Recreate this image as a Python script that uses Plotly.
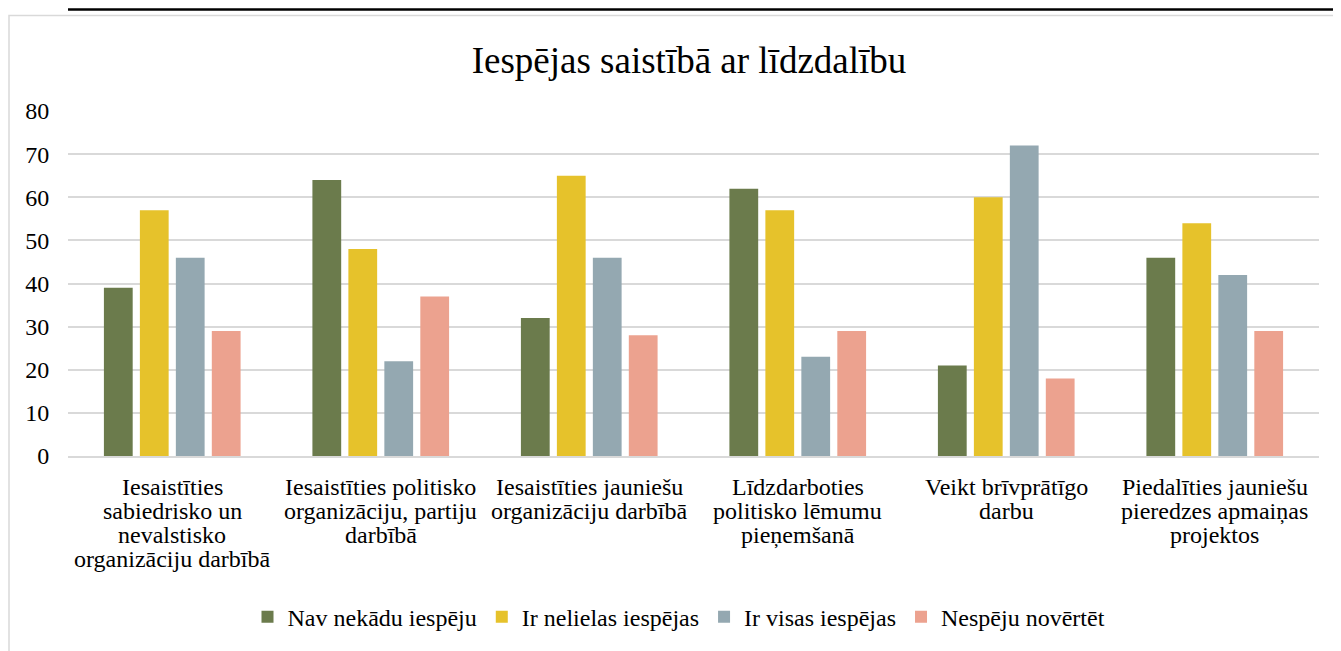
import plotly.graph_objects as go

categories = [
    "Iesaistīties<br>sabiedrisko un<br>nevalstisko<br>organizāciju darbībā",
    "Iesaistīties politisko<br>organizāciju, partiju<br>darbībā",
    "Iesaistīties jauniešu<br>organizāciju darbībā",
    "Līdzdarboties<br>politisko lēmumu<br>pieņemšanā",
    "Veikt brīvprātīgo<br>darbu",
    "Piedalīties jauniešu<br>pieredzes apmaiņas<br>projektos",
]
series_names = ["Nav nekādu iespēju", "Ir nelielas iespējas", "Ir visas iespējas", "Nespēju novērtēt"]
nav = [39, 64, 32, 62, 21, 46]
nelielas = [57, 48, 65, 57, 60, 54]
visas = [46, 22, 46, 23, 72, 42]
nespeju = [29, 37, 28, 29, 18, 29]
colors = ["#6b7b4c", "#e6c22b", "#94a8b1", "#eca28f"]

FONT = "'Liberation Serif', 'Times New Roman', Tinos, 'DejaVu Serif', serif"

fig = go.Figure()
for name, vals, c in zip(series_names, [nav, nelielas, visas, nespeju], colors):
    fig.add_trace(go.Bar(name=name, x=categories, y=vals, marker_color=c, marker_line_width=0))

# page body has an 8px margin, so figure is offset by (8, 8)
OFF = 8
W, H = 1341 - OFF, 651 - OFF
L, T = 68 - OFF, 111 - OFF
R = W - (1319 - OFF)
B = H - (458 - OFF)
pw, ph = W - L - R, H - T - B

def px(x):
    return (x - OFF - L) / pw

def py(y):
    return (H - B - (y - OFF)) / ph

# category labels drawn line by line (tight line spacing like the original)
annotations = []
for cat in categories:
    for i, line in enumerate(cat.split("<br>")):
        annotations.append(dict(
            x=cat, y=0, xref="x", yref="y", text=line, showarrow=False,
            xanchor="center", yanchor="middle", yshift=-(31 + 24 * i),
            font=dict(family=FONT, size=24, color="#000000"),
        ))

fig.update_layout(
    width=W, height=H,
    margin=dict(l=L, r=R, t=T, b=B),
    paper_bgcolor="white", plot_bgcolor="white",
    font=dict(family=FONT, color="#000000", size=24),
    title=dict(text="Iespējas saistībā ar līdzdalību", x=(689 - OFF) / W, xanchor="center",
               y=1 - (60 - OFF) / H, yanchor="middle",
               font=dict(family=FONT, size=37, color="#000000")),
    barmode="group", bargap=0.31, bargroupgap=0.2,
    legend=dict(orientation="h", x=px(679), xanchor="center", y=py(620), yanchor="middle",
                font=dict(family=FONT, size=24, color="#000000"), traceorder="normal"),
    xaxis=dict(showgrid=False, showline=True, linecolor="#d9d9d9", linewidth=1.5,
               ticks="", showticklabels=False, automargin=False),
    yaxis=dict(range=[0, 80], dtick=10, showgrid=True, gridcolor="#d9d9d9", gridwidth=1.5,
               zeroline=False, showline=False, tickfont=dict(family=FONT, size=24, color="#000000"),
               ticks="outside", ticklen=13, tickcolor="rgba(0,0,0,0)", automargin=False),
    annotations=annotations,
    shapes=[
        dict(type="line", xref="paper", yref="paper", x0=px(68), x1=px(1345), y0=py(9), y1=py(9),
             line=dict(color="#000000", width=2.5)),
        dict(type="rect", xref="paper", yref="paper", x0=px(9), x1=px(1350), y0=py(15), y1=py(670),
             line=dict(color="#d9d9d9", width=1.5), layer="below"),
    ],
)

fig.write_html("out.html")
